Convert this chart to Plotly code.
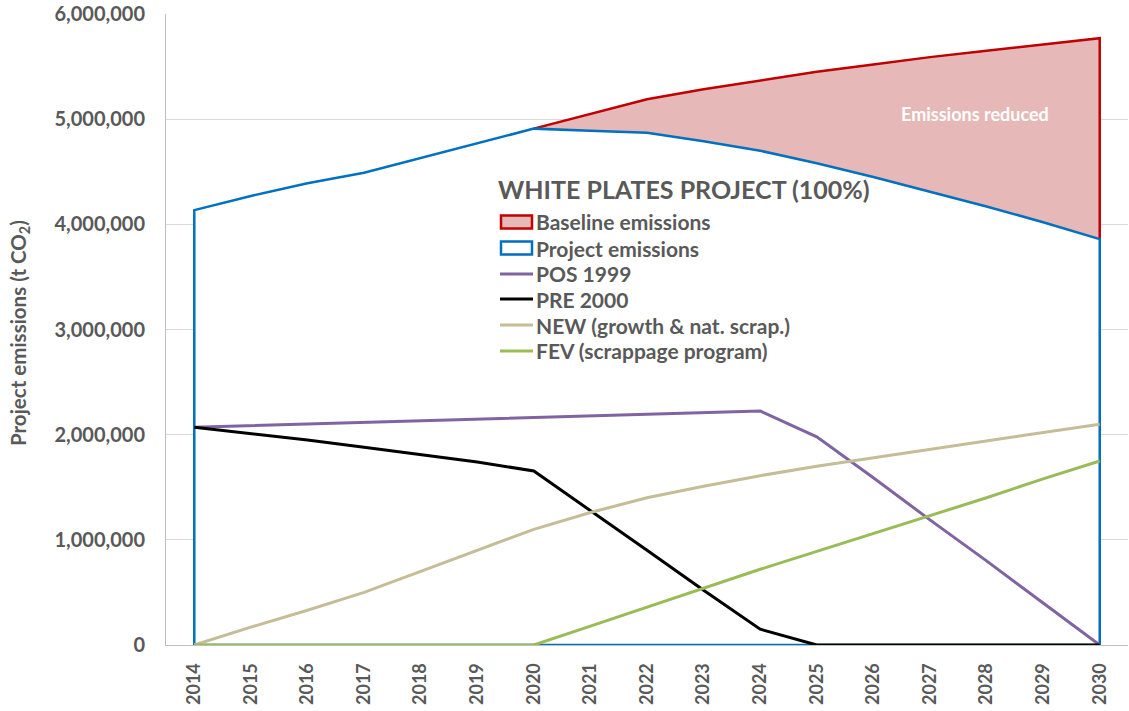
import plotly.graph_objects as go

years = list(range(2014, 2031))
year_labels = [str(y) for y in years]

baseline_years = list(range(2020, 2031))
baseline = [4910000, 5050000, 5190000, 5285000, 5370000, 5450000, 5520000, 5590000, 5650000, 5710000, 5770000]

project = [4135000, 4270000, 4390000, 4490000, 4630000, 4770000, 4910000, 4890000, 4870000, 4790000,
           4700000, 4580000, 4450000, 4310000, 4170000, 4020000, 3860000]
pos1999 = [2070000, 2085000, 2100000, 2120000, 2135000, 2150000, 2160000, 2175000, 2195000, 2210000,
           2225000, 1980000, 1590000, 1190000, 800000, 400000, 0]
pre2000 = [2070000, 2010000, 1950000, 1880000, 1810000, 1740000, 1655000, 1280000, 900000, 520000,
           150000, 0, 0, 0, 0, 0, 0]
new_growth = [0, 170000, 330000, 500000, 700000, 900000, 1100000, 1260000, 1400000, 1510000,
              1610000, 1700000, 1780000, 1860000, 1940000, 2020000, 2100000]
fev = [0, 0, 0, 0, 0, 0, 0, 180000, 360000, 540000, 720000, 890000, 1060000, 1230000, 1400000, 1580000, 1750000]

y_ticks = [0, 1000000, 2000000, 3000000, 4000000, 5000000, 6000000]
y_tick_labels = ["0", "1,000,000", "2,000,000", "3,000,000", "4,000,000", "5,000,000", "6,000,000"]

legend_title = "WHITE PLATES PROJECT (100%)"
series_names = ["Baseline emissions", "Project emissions", "POS 1999", "PRE 2000",
                "NEW (growth & nat. scrap.)", "FEV (scrappage program)"]

FONT = "Lato"
GRAY = "#595959"
RED, PINK, BLUE = "#C00000", "#E6B8B7", "#0070C0"
line_colors = {"POS 1999": "#8064A2", "PRE 2000": "#000000",
               "NEW (growth & nat. scrap.)": "#C4BD97", "FEV (scrappage program)": "#9BBB59"}

FIG_W, FIG_H = 1129, 711
# plot area in pixels
L, R, T, B = 166, 1128, 14, 645
W, H = R - L, B - T


def pxx(p):
    return (p - L) / W


def pyy(p):
    return (B - p) / H


fig = go.Figure()

# Baseline area (closed polygon)
bx = baseline_years + [baseline_years[-1], baseline_years[0]]
by = baseline + [0, 0]
fig.add_trace(go.Scatter(x=bx, y=by, mode="lines", fill="toself", fillcolor=PINK,
                         line=dict(color=RED, width=2.5), name=series_names[0],
                         hoverinfo="skip", showlegend=False))

# Project area (closed polygon, white fill)
px_ = [years[0]] + years + [years[-1], years[0]]
py_ = [0] + project + [0, 0]
fig.add_trace(go.Scatter(x=px_, y=py_, mode="lines", fill="toself", fillcolor="white",
                         line=dict(color=BLUE, width=2.5), name=series_names[1],
                         hoverinfo="skip", showlegend=False))

for nm, vals in [("POS 1999", pos1999), ("PRE 2000", pre2000),
                 ("NEW (growth & nat. scrap.)", new_growth), ("FEV (scrappage program)", fev)]:
    fig.add_trace(go.Scatter(x=years, y=vals, mode="lines", line=dict(color=line_colors[nm], width=3),
                             name=nm, showlegend=False))

fig.add_annotation(x=2027.79, y=5050000, text="<b>Emissions reduced</b>", showarrow=False,
                   font=dict(family=FONT, size=18, color="white"))

# Manual legend (inside plot)
fig.add_annotation(xref="paper", yref="paper", x=pxx(496), y=pyy(189), xanchor="left", yanchor="middle",
                   text="<b>%s</b>" % legend_title, showarrow=False,
                   font=dict(family=FONT, size=25, color=GRAY))
item_y = [222, 248, 274, 299, 325, 351]
for nm, yy in zip(series_names, item_y):
    if nm == "Baseline emissions":
        fig.add_shape(type="rect", xref="paper", yref="paper", x0=pxx(501), x1=pxx(532),
                      y0=pyy(yy - 6.5), y1=pyy(yy + 6.5), fillcolor=PINK, line=dict(color=RED, width=2.5))
    elif nm == "Project emissions":
        fig.add_shape(type="rect", xref="paper", yref="paper", x0=pxx(501), x1=pxx(532),
                      y0=pyy(yy - 6.5), y1=pyy(yy + 6.5), fillcolor="white", line=dict(color=BLUE, width=2.5))
    else:
        fig.add_shape(type="line", xref="paper", yref="paper", x0=pxx(500), x1=pxx(533),
                      y0=pyy(yy), y1=pyy(yy), line=dict(color=line_colors[nm], width=3))
    fig.add_annotation(xref="paper", yref="paper", x=pxx(534), y=pyy(yy), xanchor="left", yanchor="middle",
                       text="<b>%s</b>" % nm, showarrow=False, font=dict(family=FONT, size=21, color=GRAY))

# Y axis title
fig.add_annotation(xref="paper", yref="paper", x=pxx(19), y=pyy(333), xanchor="center", yanchor="middle",
                   text="<b>Project emissions (t CO<sub>2</sub>)</b>", textangle=-90, showarrow=False,
                   font=dict(family=FONT, size=20.5, color=GRAY))

fig.update_layout(
    width=FIG_W, height=FIG_H,
    margin=dict(l=L, r=FIG_W - R, t=T, b=FIG_H - B, autoexpand=False),
    paper_bgcolor="white", plot_bgcolor="white",
    font=dict(family=FONT, color=GRAY),
    showlegend=False,
    xaxis=dict(
        range=[2013.5, 2030.5], tickmode="array", tickvals=years,
        ticktext=["<b>%s</b>" % t for t in year_labels], tickangle=-90,
        tickfont=dict(family=FONT, size=18, color=GRAY),
        showgrid=False, zeroline=False, showline=True, linecolor="#BFBFBF", linewidth=1,
        ticks="", automargin=False, ticklabelstandoff=10, ticklabeloverflow="allow",
    ),
    yaxis=dict(
        range=[0, 6000000], tickmode="array", tickvals=y_ticks,
        ticktext=["<b>%s</b>" % t for t in y_tick_labels],
        tickfont=dict(family=FONT, size=20, color=GRAY),
        showgrid=True, gridcolor="#D9D9D9", gridwidth=1, zeroline=False,
        showline=True, linecolor="#BFBFBF", linewidth=1, ticks="", automargin=False,
        ticklabelstandoff=16, ticklabeloverflow="allow",
    ),
)

fig.write_html("out.html", config={"displayModeBar": False},
               post_script="document.body.style.margin='0';document.body.style.overflow='hidden';")
